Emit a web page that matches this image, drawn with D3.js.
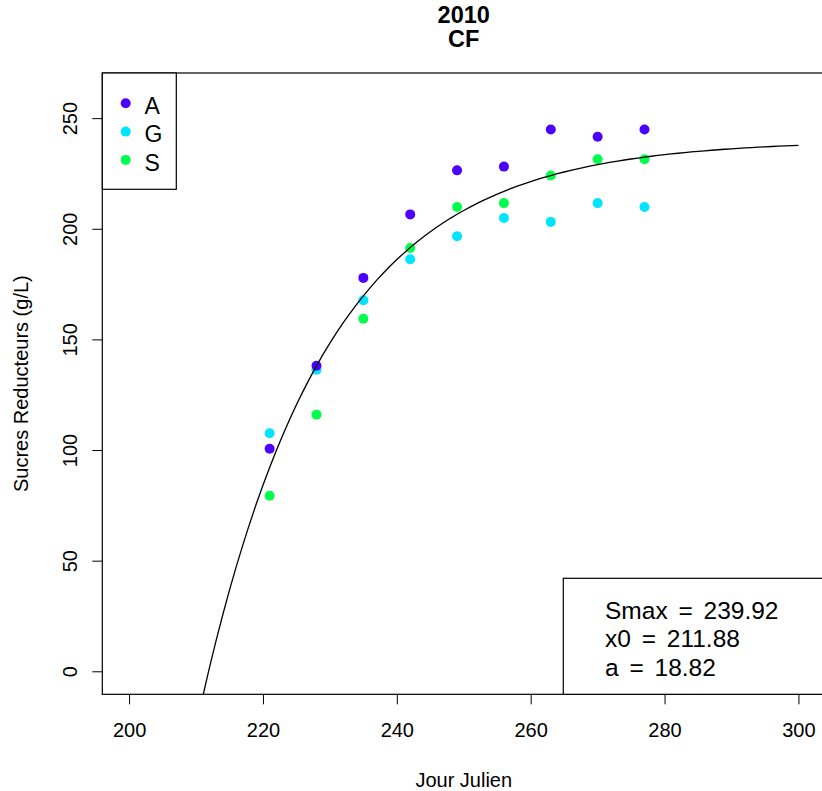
<!DOCTYPE html>
<html>
<head>
<meta charset="utf-8">
<script src="https://cdn.jsdelivr.net/npm/d3@7"></script>
<style>
  html, body { margin: 0; padding: 0; background: #fff; }
  svg { display: block; font-family: "Liberation Sans", Arial, Helvetica, sans-serif; }
</style>
</head>
<body>
<svg id="chart" width="822" height="791"></svg>
<script>
// ---- data ----
const days = [221, 228, 235, 242, 249, 256, 263, 270, 277];
const seriesNames = ["A", "G", "S"];
const valuesA = [100.6, 138.1, 177.8, 206.5, 226.4, 228.1, 244.9, 241.6, 244.9];
const valuesG = [107.6, 136.3, 167.7, 186.2, 196.6, 204.9, 203.1, 211.6, 209.8];
const valuesS = [79.3, 116.0, 159.3, 191.3, 209.8, 211.6, 224.1, 231.4, 231.4];
const seriesColors = ["#4C00FF", "#00E5FF", "#00FF4D"];
const xTicks = [200, 220, 240, 260, 280, 300];
const yTicks = [0, 50, 100, 150, 200, 250];
const fitNames = ["Smax", "x0", "a"];
const fitValues = [239.92, 211.88, 18.82];
const fitDays = d3.range(200, 301, 1);
const titleLines = ["2010", "CF"];

// ---- layout ----
const svg = d3.select("#chart");
const L = 102.3, R = 825.2, T = 73, B = 694.3;
const x = d3.scaleLinear().domain([196, 304]).range([L, R]);
const y = d3.scaleLinear().domain([-10.4, 270.4]).range([B, T]);

svg.append("defs").append("clipPath").attr("id", "plotclip")
  .append("rect").attr("x", L).attr("y", T).attr("width", R - L).attr("height", B - T);

// title
svg.append("g").selectAll("text").data(titleLines).join("text")
  .attr("x", (L + R) / 2).attr("y", (d, i) => 23.3 + i * 23.5)
  .attr("text-anchor", "middle").attr("font-weight", "bold").attr("font-size", 23.5)
  .text(d => d);

// axes
const xAxis = svg.append("g").attr("transform", `translate(0,${B})`)
  .call(d3.axisBottom(x).tickValues(xTicks).tickSize(10).tickPadding(19).tickFormat(d3.format("d")));
xAxis.select(".domain").remove();
xAxis.selectAll("text").attr("font-size", 20).attr("fill", "#000").attr("font-family", "Liberation Sans, Arial, sans-serif").attr("dy", "0.71em");
xAxis.selectAll("line").attr("stroke", "#000");

const yAxis = svg.append("g").attr("transform", `translate(${L},0)`)
  .call(d3.axisLeft(y).tickValues(yTicks).tickSize(10).tickFormat(d3.format("d")));
yAxis.select(".domain").remove();
yAxis.selectAll("line").attr("stroke", "#000");
yAxis.selectAll("text")
  .attr("font-size", 20).attr("fill", "#000").attr("font-family", "Liberation Sans, Arial, sans-serif")
  .attr("x", null).attr("dy", null)
  .attr("text-anchor", "middle")
  .attr("transform", "translate(" + (77 - L) + ",0) rotate(-90)");

// axis titles
svg.append("text").attr("x", (L + R) / 2).attr("y", 787)
  .attr("text-anchor", "middle").attr("font-size", 20).text("Jour Julien");
svg.append("text").attr("transform", `translate(28,${(T + B) / 2}) rotate(-90)`)
  .attr("text-anchor", "middle").attr("font-size", 20).text("Sucres Reducteurs (g/L)");

// points (drawn G, S, A)
const seriesValues = { A: valuesA, G: valuesG, S: valuesS };
const drawOrder = ["G", "S", "A"];
const pts = svg.append("g").attr("clip-path", "url(#plotclip)");
drawOrder.forEach(name => {
  const col = seriesColors[seriesNames.indexOf(name)];
  pts.selectAll(null).data(days.map((d, i) => [d, seriesValues[name][i]])).join("circle")
    .attr("cx", d => x(d[0])).attr("cy", d => y(d[1])).attr("r", 5).attr("fill", col);
});

// fitted curve from the displayed parameters
const [Smax, x0, a] = fitValues;
const curve = fitDays.map(d => [d, Smax * (1 - Math.exp(-(d - x0) / a))]);
svg.append("path").attr("clip-path", "url(#plotclip)")
  .datum(curve)
  .attr("fill", "none").attr("stroke", "#000").attr("stroke-width", 1.3)
  .attr("d", d3.line().x(d => x(d[0])).y(d => y(d[1])));

// plot box
svg.append("rect").attr("x", L).attr("y", T).attr("width", R - L).attr("height", B - T)
  .attr("fill", "none").attr("stroke", "#000").attr("stroke-width", 1.2);

// legend top-left
const lg = svg.append("g");
lg.append("rect").attr("x", L).attr("y", T).attr("width", 176.3 - L).attr("height", 189.3 - T)
  .attr("fill", "#fff").attr("stroke", "#000").attr("stroke-width", 1.2);
seriesNames.forEach((n, i) => {
  lg.append("circle").attr("cx", 125.7).attr("cy", 103.3 + i * 28.3).attr("r", 5).attr("fill", seriesColors[i]);
  lg.append("text").attr("x", 144.5).attr("y", 114.3 + i * 28.1).attr("font-size", 23).text(n);
});

// parameters legend bottom-right
const pg = svg.append("g");
pg.append("rect").attr("x", 563.3).attr("y", 578.3).attr("width", R - 563.3).attr("height", B - 578.3)
  .attr("fill", "#fff").attr("stroke", "#000").attr("stroke-width", 1.2);
fitNames.forEach((n, i) => {
  pg.append("text").attr("x", 605).attr("y", 619 + i * 28.3).attr("font-size", 24.5)
    .attr("word-spacing", 4).attr("xml:space", "preserve").style("white-space", "pre")
    .text(n + " = " + d3.format(".2f")(fitValues[i]));
});
</script>
</body>
</html>
